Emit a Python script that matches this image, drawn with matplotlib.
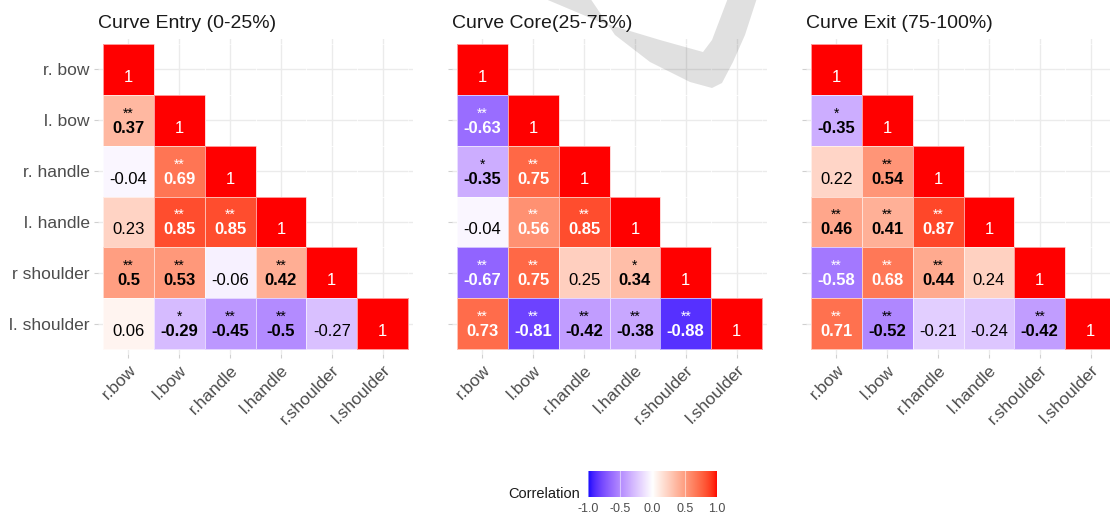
import numpy as np
import matplotlib
matplotlib.use("Agg")
import matplotlib.pyplot as plt
from matplotlib.colors import ListedColormap
from matplotlib.patches import Polygon

plt.rcParams['font.family'] = ['Liberation Sans', 'DejaVu Sans']
plt.rcParams['axes.unicode_minus'] = False

# ---------------- data ----------------
y_labels = ["r. bow", "l. bow", "r. handle", "l. handle", "r shoulder", "l. shoulder"]
x_labels = ["r.bow", "l.bow", "r.handle", "l.handle", "r.shoulder", "l.shoulder"]
titles = ["Curve Entry (0-25%)", "Curve Core(25-75%)", "Curve Exit (75-100%)"]

# lower triangles, row by row (rows 2..6)
entry_vals = [[0.37],
              [-0.04, 0.69],
              [0.23, 0.85, 0.85],
              [0.5, 0.53, -0.06, 0.42],
              [0.06, -0.29, -0.45, -0.5, -0.27]]
entry_sig = [["**"],
             ["", "**"],
             ["", "**", "**"],
             ["**", "**", "", "**"],
             ["", "*", "**", "**", ""]]

core_vals = [[-0.63],
             [-0.35, 0.75],
             [-0.04, 0.56, 0.85],
             [-0.67, 0.75, 0.25, 0.34],
             [0.73, -0.81, -0.42, -0.38, -0.88]]
core_sig = [["**"],
            ["*", "**"],
            ["", "**", "**"],
            ["**", "**", "", "*"],
            ["**", "**", "**", "**", "**"]]

exit_vals = [[-0.35],
             [0.22, 0.54],
             [0.46, 0.41, 0.87],
             [-0.58, 0.68, 0.44, 0.24],
             [0.71, -0.52, -0.21, -0.24, -0.42]]
exit_sig = [["*"],
            ["", "**"],
            ["**", "**", "**"],
            ["**", "**", "**", ""],
            ["**", "**", "", "", "**"]]

legend_ticks = [-1.0, -0.5, 0.0, 0.5, 1.0]

# ---------------- colour scale (Lab interpolation, like ggplot gradient2) ----------------
_M = np.array([[0.4124564, 0.3575761, 0.1804375],
               [0.2126729, 0.7151522, 0.0721750],
               [0.0193339, 0.1191920, 0.9503041]])
_WHITE = np.array([0.95047, 1.0, 1.08883])


def srgb_to_lab(rgb):
    c = np.asarray(rgb, float)
    lin = np.where(c <= 0.04045, c / 12.92, ((c + 0.055) / 1.055) ** 2.4)
    xyz = _M @ lin
    t = xyz / _WHITE
    d = 6 / 29
    f = np.where(t > d ** 3, np.cbrt(t), t / (3 * d * d) + 4 / 29)
    return np.array([116 * f[1] - 16, 500 * (f[0] - f[1]), 200 * (f[1] - f[2])])


def lab_to_srgb(lab):
    lab = np.atleast_2d(lab)
    L, a, b = lab[:, 0], lab[:, 1], lab[:, 2]
    fy = (L + 16) / 116
    fx = fy + a / 500
    fz = fy - b / 200
    d = 6 / 29
    f = np.stack([fx, fy, fz], axis=1)
    t = np.where(f > d, f ** 3, 3 * d * d * (f - 4 / 29))
    xyz = t * _WHITE
    lin = xyz @ np.linalg.inv(_M).T
    lin = np.clip(lin, 0, 1)
    c = np.where(lin <= 0.0031308, 12.92 * lin, 1.055 * lin ** (1 / 2.4) - 0.055)
    return np.clip(c, 0, 1)


lab_low = srgb_to_lab([0, 0, 1])
lab_mid = srgb_to_lab([1, 1, 1])
lab_high = srgb_to_lab([1, 0, 0])
v = np.linspace(-1, 1, 513)
labs = np.array([lab_mid + (-x) * (lab_low - lab_mid) if x < 0 else lab_mid + x * (lab_high - lab_mid) for x in v])
cmap = ListedColormap(lab_to_srgb(labs))

# ---------------- layout ----------------
W, H = 1110, 515
fig = plt.figure(figsize=(W / 100, H / 100), dpi=100)
fig.patch.set_facecolor("white")


def add_axes_px(left, top, w, h):
    return fig.add_axes([left / W, 1 - (top + h) / H, w / W, h / H])


n = len(x_labels)
panel_left = [98, 452, 806]
panel_top = 39
panel_size = 315
lab_col = "#4D4D4D"

datasets = [(entry_vals, entry_sig), (core_vals, core_sig), (exit_vals, exit_sig)]

for k, (vals, sigs) in enumerate(datasets):
    ax = add_axes_px(panel_left[k], panel_top, panel_size, panel_size)
    M = np.full((n, n), np.nan)
    S = [["" for _ in range(n)] for _ in range(n)]
    for i in range(n):
        M[i, i] = 1.0
    for r, row in enumerate(vals):
        for c, val in enumerate(row):
            M[r + 1, c] = val
            S[r + 1][c] = sigs[r][c]
    Mm = np.ma.masked_invalid(M)
    edges = np.arange(n + 1) - 0.5
    ax.pcolormesh(edges, edges, Mm, cmap=cmap, vmin=-1, vmax=1,
                  edgecolors=(1, 1, 1, 0.6), linewidth=0.6, zorder=2)
    ax.set_xlim(-0.6, n - 0.4)
    ax.set_ylim(n - 0.4, -0.6)
    ax.set_xticks(range(n))
    ax.set_yticks(range(n))
    ax.grid(True, color="#EBEBEB", linewidth=1.0, zorder=0)
    ax.set_axisbelow(True)
    for s in ax.spines.values():
        s.set_visible(False)
    ax.tick_params(length=3, color="#D0D0D0", width=0.8)
    ax.set_xticklabels(x_labels, rotation=45, ha="right", va="top",
                       rotation_mode="anchor", fontsize=12.5, color=lab_col)
    ax.tick_params(axis="x", pad=3)
    if k == 0:
        ax.set_yticklabels(y_labels, fontsize=12.5, color=lab_col)
        ax.tick_params(axis="y", pad=3)
    else:
        ax.set_yticklabels([])
    ax.set_title(titles[k], loc="left", fontsize=14, pad=8, color="#1A1A1A")

    for i in range(n):
        for j in range(i + 1):
            val = M[i, j]
            if i == j:
                ax.text(j, i + 0.245, "1", ha="center", va="baseline",
                        color="white", fontsize=12, zorder=3)
                continue
            sig = S[i][j]
            col = "white" if abs(val) > 0.55 else "black"
            txt = f"{val:.2f}".rstrip("0").rstrip(".")
            ax.text(j, i + 0.245, txt, ha="center", va="baseline", color=col,
                    fontsize=12, fontweight="bold" if sig else "normal", zorder=3)
            if sig:
                ax.text(j, i - 0.055, sig, ha="center", va="baseline", color=col,
                        fontsize=10, zorder=3)

# ---------------- legend (colour bar) ----------------
cax = add_axes_px(588, 471, 129, 26)
grad = np.linspace(-1, 1, 256)[None, :]
cax.imshow(grad, cmap=cmap, vmin=-1, vmax=1, aspect="auto", extent=(-1, 1, 0, 1))
cax.set_xlim(-1, 1)
cax.set_ylim(0, 1)
for t in legend_ticks:
    cax.axvline(t, color="white", alpha=0.5, linewidth=0.8)
cax.set_yticks([])
cax.set_xticks(legend_ticks)
cax.set_xticklabels([f"{t:.1f}" for t in legend_ticks], fontsize=9, color=lab_col)
cax.tick_params(axis="x", length=0, pad=4)
for s in cax.spines.values():
    s.set_visible(False)
fig.text(580 / W, 1 - 497.5 / H, "Correlation", ha="right", va="baseline",
         fontsize=10.5, color="#1A1A1A")

# ---------------- faint background swoosh (watermark in the source image) ----------------
def px(x, y):
    return (x / W, 1 - y / H)

outline = [(543, -2), (600, 22), (660, 40), (703, 52), (712, 40), (728, -2),
           (757, -2), (745, 35), (733, 62), (722, 83), (712, 88),
           (690, 82), (650, 62), (615, 35), (590, -2)]
sw = Polygon([px(x, y) for x, y in outline], closed=True, transform=fig.transFigure,
             facecolor=(0, 0, 0, 0.12), edgecolor="none")
fig.add_artist(sw)

fig.savefig("out.png", dpi=100, facecolor="white")
